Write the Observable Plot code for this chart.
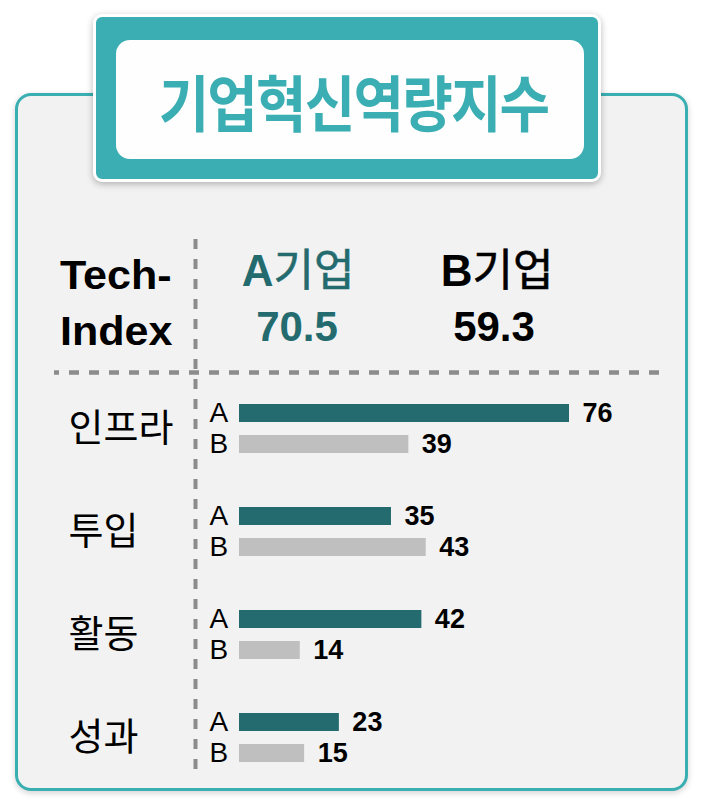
<!DOCTYPE html>
<html>
<head>
<meta charset="utf-8">
<script src="https://cdn.jsdelivr.net/npm/d3@7"></script>
<script src="https://cdn.jsdelivr.net/npm/@observablehq/plot@0.6"></script>
<style>
  html, body { margin: 0; padding: 0; background: #ffffff; }
  #page { position: relative; width: 702px; height: 806px; overflow: hidden; font-family: "Liberation Sans", Arial, "Noto Sans CJK KR", sans-serif; }
  #panel { position: absolute; left: 15px; top: 93px; width: 667px; height: 692px; border: 3px solid #3aafb2; border-radius: 16px; background: #f2f2f2; box-shadow: 0 2px 6px rgba(0,0,0,0.18); }
  #titleBox { position: absolute; left: 93px; top: 14px; width: 502px; height: 162px; border: 3px solid #ffffff; border-radius: 9px; background: #3aaeb2; box-shadow: 0 2px 7px rgba(0,0,0,0.28); }
  #titleInner { position: absolute; left: 20px; top: 23px; width: 468px; height: 119px; border-radius: 14px; background: #fefefe; display: flex; align-items: center; justify-content: center; }
  #titleText { font-family: "Noto Sans CJK KR", sans-serif; font-weight: 700; font-size: 61px; color: #3aaeb2; transform: translate(3px, 1px) scaleX(0.9); white-space: nowrap; line-height: 1; letter-spacing: -2px; }
  #decor { position: absolute; left: 0; top: 0; }
  #chart { position: absolute; left: 0; top: 367px; }
</style>
</head>
<body>
<div id="page">
  <div id="panel"></div>
  <div id="titleBox"><div id="titleInner"><div id="titleText"></div></div></div>
  <svg id="decor" width="702" height="806"></svg>
  <div id="chart"></div>
</div>
<script>
// ---- data ----
const title = "기업혁신역량지수";
const indexTitle = ["Tech-", "Index"];
const companies = ["A", "B"];
const companyLabels = ["A기업", "B기업"];
const indexValues = [70.5, 59.3];
const categories = ["인프라", "투입", "활동", "성과"];
const valuesA = [76, 35, 42, 23];
const valuesB = [39, 43, 14, 15];
const companyColors = ["#236b6e", "#bfbfbf"];
const headerColors = ["#236b6e", "#000000"];

const rows = categories.flatMap((c, i) => [
  {category: c, company: "A", value: valuesA[i]},
  {category: c, company: "B", value: valuesB[i]}
]);

// ---- title ----
document.getElementById("titleText").textContent = title;

// ---- header / decorations ----
const svg = d3.select("#decor");
svg.append("line").attr("x1", 195.5).attr("x2", 195.5).attr("y1", 239).attr("y2", 772)
  .attr("stroke", "#8c8c8c").attr("stroke-width", 4).attr("stroke-dasharray", "10 10");
svg.append("line").attr("x1", 54).attr("x2", 662).attr("y1", 372.5).attr("y2", 372.5)
  .attr("stroke", "#8c8c8c").attr("stroke-width", 4.5).attr("stroke-dasharray", "10 10").attr("stroke-dashoffset", 5);

svg.selectAll("text.idx").data(indexTitle).join("text")
  .attr("class", "idx")
  .attr("x", 60).attr("y", (d, i) => [289, 345][i])
  .attr("font-family", "Liberation Sans, Arial, sans-serif")
  .attr("font-weight", "bold").attr("font-size", 41)
  .attr("fill", "#000")
  .attr("transform", "translate(60,0) scale(1.05,1) translate(-60,0)")
  .text(d => d);

const headX = [298, 497];
companyLabels.forEach((lab, i) => {
  const t = svg.append("text").attr("x", headX[i]).attr("y", 286)
    .attr("text-anchor", "middle").attr("fill", headerColors[i]);
  t.append("tspan").attr("font-family", "Liberation Sans, Arial, sans-serif")
    .attr("font-weight", "bold").attr("font-size", 44).text(lab.slice(0, 1));
  t.append("tspan").attr("font-family", "Noto Sans CJK KR, sans-serif")
    .attr("font-weight", 400).attr("font-size", 44).attr("stroke", headerColors[i]).attr("stroke-width", 0.6)
    .text(lab.slice(1));
  svg.append("text").attr("x", headX[i] - (i === 0 ? 1 : 3)).attr("y", 341)
    .attr("text-anchor", "middle").attr("fill", headerColors[i])
    .attr("font-family", "Liberation Sans, Arial, sans-serif")
    .attr("font-weight", "bold").attr("font-size", 42)
    .text(indexValues[i].toFixed(1));
});

// ---- bars ----
const chart = Plot.plot({
  width: 702,
  height: 432,
  marginTop: 10,
  marginBottom: 10,
  marginLeft: 239,
  marginRight: 133,
  style: {background: "transparent", overflow: "visible", fontFamily: "Liberation Sans, Arial, sans-serif"},
  facet: {data: rows, y: "category", marginTop: 0, marginBottom: 0, marginLeft: 239, marginRight: 133, label: null},
  fy: {domain: categories, padding: 0, axis: null, label: null},
  y: {domain: companies, paddingInner: 0.42, paddingOuter: 0.87, axis: null, label: null},
  x: {domain: [0, d3.max(rows, d => d.value)], axis: null, label: null},
  color: {domain: companies, range: companyColors},
  marks: [
    Plot.barX(rows, {x: "value", y: "company", fill: "company"}),
    Plot.text(rows, {y: "company", text: "company", frameAnchor: "left", textAnchor: "start", dx: -30, fontSize: 28, fill: "#000"}),
    Plot.text(rows, {x: "value", y: "company", text: d => String(d.value), textAnchor: "start", dx: 13, fontSize: 27, fontWeight: "bold", fill: "#000"}),
    Plot.text(rows, {filter: d => d.company === "A", text: "category", frameAnchor: "left", textAnchor: "start", dx: -171, fontSize: 38, fontFamily: "Noto Sans CJK KR, sans-serif", fill: "#000"})
  ]
});
document.getElementById("chart").appendChild(chart);
</script>
</body>
</html>
